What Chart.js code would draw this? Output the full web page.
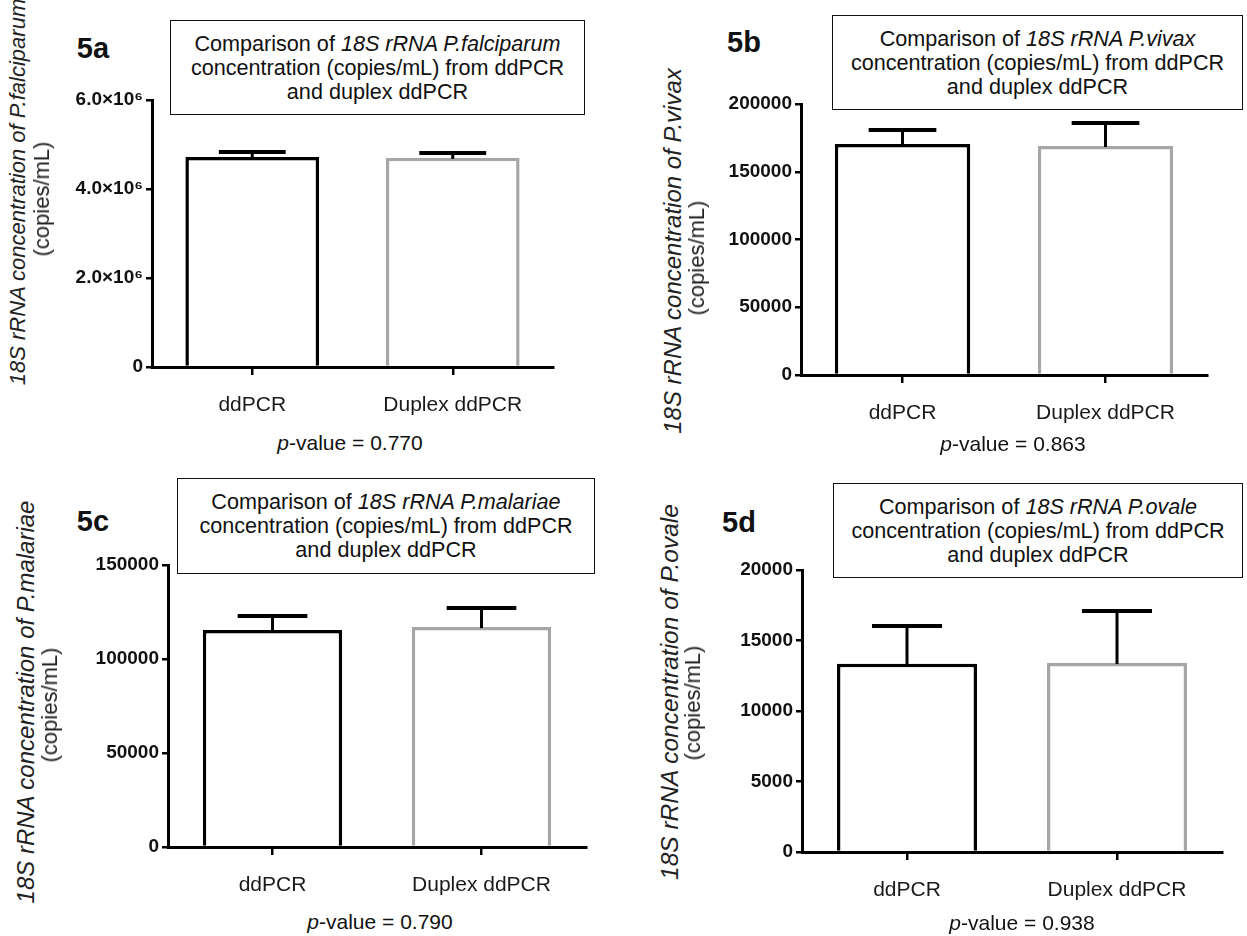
<!DOCTYPE html>
<html>
<head>
<meta charset="utf-8">
<script src="https://cdn.jsdelivr.net/npm/chart.js@4.4.1/dist/chart.umd.min.js"></script>
<style>
  html, body { margin: 0; padding: 0; background: #fff; }
  body { width: 1247px; height: 936px; position: relative; overflow: hidden; font-family: "Liberation Sans", Arial, sans-serif; color: #111; }
  canvas { position: absolute; }
  .lbl { position: absolute; font-weight: bold; font-size: 29px; transform: translate(-50%, -50%); white-space: nowrap; color: #111; }
  .box { position: absolute; box-sizing: border-box; border: 1.5px solid #111; background: #fff; display: flex; align-items: center; justify-content: center; text-align: center; font-size: 21.6px; line-height: 24px; color: #111; z-index: 2; }
  .yt1, .yt2 { position: absolute; color: #222; transform: translate(-50%, -50%) rotate(-90deg); white-space: nowrap; line-height: 24px; }
  .yt1 { font-size: 22px; font-style: italic; }
  .yt2 { font-size: 22px; }
  .pval { position: absolute; font-size: 21px; transform: translate(-50%, -50%); white-space: nowrap; color: #111; }
</style>
</head>
<body>
<canvas id="cA"></canvas>
<canvas id="cB"></canvas>
<canvas id="cC"></canvas>
<canvas id="cD"></canvas>
<div id="overlay"></div>
<script>
// ---------------- data ----------------
const categories = ['ddPCR', 'Duplex ddPCR'];
const species = ['P.falciparum', 'P.vivax', 'P.malariae', 'P.ovale'];
const panelNames = ['5a', '5b', '5c', '5d'];
const pValues = ['0.770', '0.863', '0.790', '0.938'];

const meanA = [4720000, 4700000];
const sdA = [110000, 110000];
const meanB = [170500, 169000];
const sdB = [10300, 17000];
const meanC = [115400, 117000];
const sdC = [7500, 10100];
const meanD = [13350, 13400];
const sdD = [2680, 3700];

const tickValsA = [0, 2000000, 4000000, 6000000];
const tickLabelsA = ['0', '2.0\u00d710\u2076', '4.0\u00d710\u2076', '6.0\u00d710\u2076'];
const tickValsB = [0, 50000, 100000, 150000, 200000];
const tickLabelsB = ['0', '50000', '100000', '150000', '200000'];
const tickValsC = [0, 50000, 100000, 150000];
const tickLabelsC = ['0', '50000', '100000', '150000'];
const tickValsD = [0, 5000, 10000, 15000, 20000];
const tickLabelsD = ['0', '5000', '10000', '15000', '20000'];

const barColors = ['#000000', '#a6a6a6'];
const FONT = '"Liberation Sans", Arial, sans-serif';

// ---------------- layout (plot area boxes) ----------------
const YW = 110, XH = 60, PT = 20, PR = 10;
const areas = [
  { ax: 152, at: 100, ar: 553, ab: 367 },
  { ax: 801, at: 104, ar: 1207, ab: 375 },
  { ax: 168, at: 565, ar: 586, ab: 847 },
  { ax: 802, at: 570, ar: 1222, ab: 852 }
];

const errorBarPlugin = {
  id: 'errorBars',
  afterDatasetsDraw(chart) {
    const ctx = chart.ctx;
    const ys = chart.scales.y;
    chart.data.datasets.forEach((ds, i) => {
      const meta = chart.getDatasetMeta(i);
      meta.data.forEach((bar, j) => {
        const top = ys.getPixelForValue(ds.data[j] + ds.errors[j]);
        const half = bar.width / 4;
        ctx.save();
        ctx.strokeStyle = '#000';
        ctx.lineCap = 'butt';
        ctx.lineWidth = 3;
        ctx.beginPath();
        ctx.moveTo(bar.x, bar.y + 1);
        ctx.lineTo(bar.x, top);
        ctx.stroke();
        ctx.lineWidth = 4;
        ctx.beginPath();
        ctx.moveTo(bar.x - half, top);
        ctx.lineTo(bar.x + half, top);
        ctx.stroke();
        ctx.restore();
      });
    });
  }
};

function makeChart(id, area, means, sds, tickVals, tickLabels) {
  const cv = document.getElementById(id);
  const L = area.ax - YW, T = area.at - PT;
  const W = area.ar - L + PR, H = area.ab + XH - T;
  cv.width = W; cv.height = H;
  cv.style.left = L + 'px'; cv.style.top = T + 'px';
  cv.style.width = W + 'px'; cv.style.height = H + 'px';
  new Chart(cv, {
    type: 'bar',
    data: {
      labels: categories,
      datasets: [{
        data: means,
        errors: sds,
        backgroundColor: '#ffffff',
        borderColor: barColors,
        borderWidth: 3.5,
        borderSkipped: 'start',
        barPercentage: 0.667,
        categoryPercentage: 1.0
      }]
    },
    options: {
      responsive: false,
      maintainAspectRatio: false,
      animation: false,
      devicePixelRatio: 1,
      layout: { padding: { top: PT, right: PR, left: 0, bottom: 0 } },
      plugins: { legend: { display: false }, tooltip: { enabled: false } },
      scales: {
        x: {
          offset: true,
          grid: { display: true, offset: false, drawOnChartArea: false, drawTicks: true, tickLength: 8, lineWidth: 2.5, color: '#000' },
          border: { display: true, width: 3, color: '#000' },
          ticks: { padding: 18, color: '#1a1a1a', font: { family: FONT, size: 21 }, maxRotation: 0 },
          afterFit: s => { s.height = XH; }
        },
        y: {
          min: tickVals[0],
          max: tickVals[tickVals.length - 1],
          afterBuildTicks: s => { s.ticks = tickVals.map(v => ({ value: v })); },
          grid: { display: true, drawOnChartArea: false, drawTicks: true, tickLength: 6, lineWidth: 2.5, color: '#000' },
          border: { display: true, width: 3, color: '#000' },
          ticks: {
            padding: 3, color: '#111',
            font: { family: FONT, size: 19, weight: 'bold' },
            callback: (v, i) => tickLabels[i]
          },
          afterFit: s => { s.width = YW; }
        }
      }
    },
    plugins: [errorBarPlugin]
  });
}

makeChart('cA', areas[0], meanA, sdA, tickValsA, tickLabelsA);
makeChart('cB', areas[1], meanB, sdB, tickValsB, tickLabelsB);
makeChart('cC', areas[2], meanC, sdC, tickValsC, tickLabelsC);
makeChart('cD', areas[3], meanD, sdD, tickValsD, tickLabelsD);

// ---------------- text annotations ----------------
const labelPos = [[93, 48], [744, 42], [93, 521], [739, 522]];
const boxPos = [[170, 20, 415, 95], [832, 15, 411, 95], [177, 478, 418, 96], [833, 483, 410, 95]];
const yt1Pos = [[18, 192], [673, 251], [26, 702], [670, 692]];
const yt1Size = [22, 24, 24, 24.5];
const yt2Pos = [[42, 199], [697, 258], [50, 705], [693, 703]];
const pvalPos = [[350, 443], [1013, 444], [380, 922], [1022, 923]];

const ov = document.getElementById('overlay');
function add(cls, x, y, html) {
  const d = document.createElement('div');
  d.className = cls;
  d.style.left = x + 'px'; d.style.top = y + 'px';
  d.innerHTML = html;
  ov.appendChild(d);
  return d;
}
for (let i = 0; i < 4; i++) {
  add('lbl', labelPos[i][0], labelPos[i][1], panelNames[i]);
  const b = add('box', boxPos[i][0], boxPos[i][1],
    '<div>Comparison of <i>18S rRNA ' + species[i] + '</i><br>concentration (copies/mL) from ddPCR<br>and duplex ddPCR</div>');
  b.style.width = boxPos[i][2] + 'px'; b.style.height = boxPos[i][3] + 'px';
  const t = add('yt1', yt1Pos[i][0], yt1Pos[i][1], '18S rRNA concentration of ' + species[i]);
  t.style.fontSize = yt1Size[i] + 'px';
  add('yt2', yt2Pos[i][0], yt2Pos[i][1], '(copies/mL)');
  add('pval', pvalPos[i][0], pvalPos[i][1], '<i>p</i>-value = ' + pValues[i]);
}
</script>
</body>
</html>
